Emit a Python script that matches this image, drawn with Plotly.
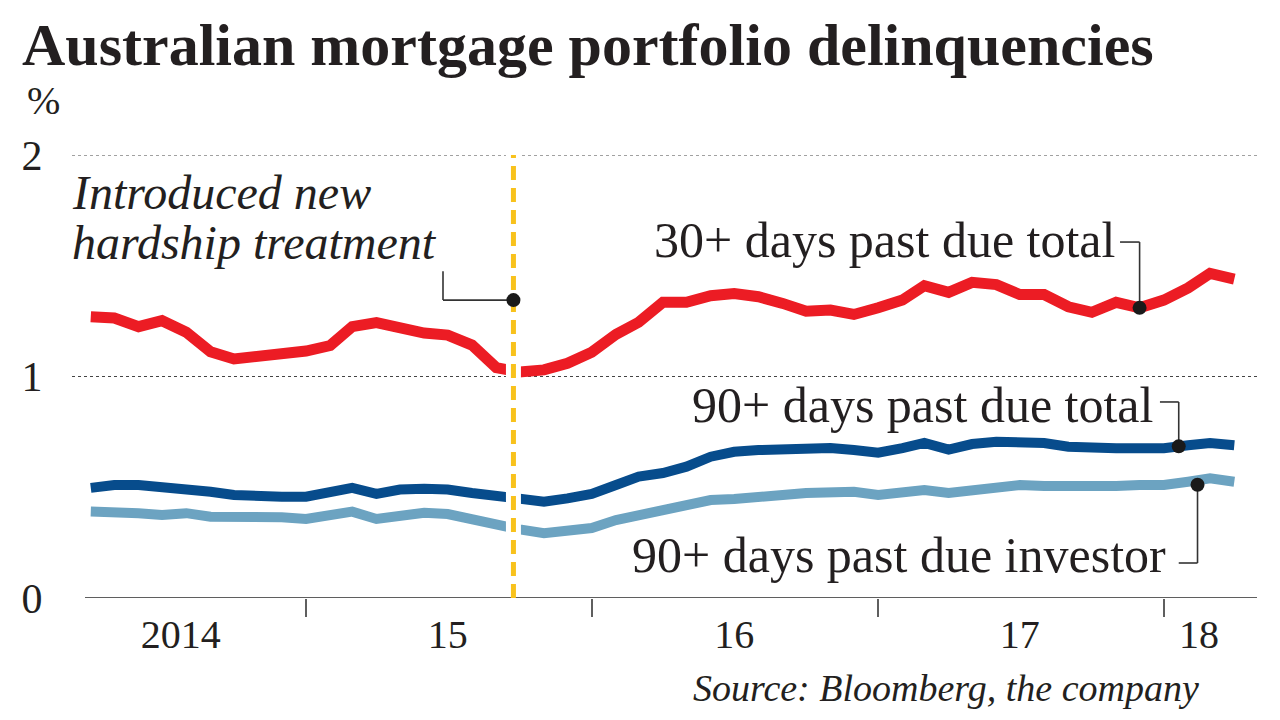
import pandas as pd
import numpy as np
import plotly.graph_objects as go

# ---------------- data ----------------
dates = pd.date_range("2014-04-01", periods=49, freq="MS")

past_due_30_total = [
    1.27, 1.264, 1.225, 1.252, 1.20, 1.112, 1.079, 1.09, 1.10,
    1.115, 1.14, 1.225, 1.243, 1.22, 1.196, 1.187, 1.142, 1.04, 1.02, 1.03, 1.06,
    1.11, 1.19, 1.245, 1.335, 1.335, 1.365, 1.375, 1.36, 1.33, 1.295, 1.30, 1.28,
    1.31, 1.345, 1.41, 1.38, 1.425, 1.415, 1.37, 1.37, 1.315, 1.29, 1.335, 1.31,
    1.345, 1.40, 1.465, 1.44,
]
past_due_90_total = [
    0.497, 0.51, 0.51, 0.502, 0.498, 0.48, 0.465, 0.457, 0.457,
    0.457, 0.475, 0.497, 0.47, 0.49, 0.493, 0.49, 0.474, 0.457, 0.45, 0.435, 0.45,
    0.47, 0.51, 0.548, 0.564, 0.593, 0.638, 0.66, 0.668, 0.672, 0.672, 0.677, 0.668,
    0.656, 0.677, 0.70, 0.67, 0.695, 0.705, 0.70, 0.70, 0.683, 0.676, 0.676, 0.676,
    0.676, 0.69, 0.70, 0.69,
]
past_due_90_investor = [
    0.39, 0.39, 0.383, 0.375, 0.383, 0.367, 0.37, 0.37, 0.365,
    0.357, 0.375, 0.39, 0.357, 0.375, 0.385, 0.379, 0.352, 0.325, 0.31, 0.293, 0.30,
    0.316, 0.352, 0.375, 0.39, 0.415, 0.442, 0.447, 0.46, 0.465, 0.474, 0.48, 0.48,
    0.465, 0.48, 0.487, 0.474, 0.487, 0.497, 0.51, 0.506, 0.506, 0.497, 0.506, 0.51,
    0.51, 0.525, 0.54, 0.525,
]

year_tick_dates = ["2015-01-01", "2016-01-01", "2017-01-01", "2018-01-01"]
year_label_dates = ["2014-07-25", "2015-07-01", "2016-07-01", "2017-07-01", "2018-02-15"]
year_labels = ["2014", "15", "16", "17", "18"]
y_tick_vals = [0, 1, 2]
y_tick_text = ["0", "1", "2"]

event_date = "2015-09-23"
x_range = ["2014-03-08", "2018-04-30"]

title = "Australian mortgage portfolio delinquencies"
source = "Source: Bloomberg, the company"

RED = "#EC1C24"
DARK = "#074C8C"
LIGHT = "#6CA3C1"
YELLOW = "#F8C21C"
TEXT = "#231F20"
GREY = "#5f5f5f"
FONT = "Liberation Serif"

# plot-area geometry (pixels) used for paper-coordinate text placement
L, R, T, B = 72, 23, 155, 122
PW, PH = 1280 - L - R, 720 - T - B


def px(x):
    return (x - L) / PW


def py(y):
    return (720 - B - y) / PH


fig = go.Figure()
for name, vals, col, w in [
    ("90+ days past due investor", past_due_90_investor, LIGHT, 10),
    ("90+ days past due total", past_due_90_total, DARK, 10),
    ("30+ days past due total", past_due_30_total, RED, 11),
]:
    fig.add_trace(go.Scatter(x=dates, y=vals, mode="lines", name=name,
                             line=dict(color=col, width=w), hoverinfo="skip"))

shapes = []
# dotted gridlines
for v in [1, 2]:
    shapes.append(dict(type="line", xref="paper", yref="y", x0=0, x1=1, y0=v, y1=v,
                       line=dict(color="#444", width=1.2, dash="dot"), layer="below"))
# axis line
shapes.append(dict(type="line", xref="paper", yref="y", x0=px(85), x1=1, y0=0, y1=0,
                   line=dict(color=GREY, width=2)))
# white gap band and yellow dashed event line
shapes.append(dict(type="line", xref="x", yref="y", x0=event_date, x1=event_date,
                   y0=0.01, y1=2.02, line=dict(color="white", width=15)))
shapes.append(dict(type="line", xref="x", yref="y", x0=event_date, x1=event_date,
                   y0=0.0, y1=2.02, line=dict(color=YELLOW, width=5, dash="14px,8px")))


def ts(d):
    return pd.Timestamp(d).value


def interp(series, d):
    return float(np.interp(ts(d), [ts(x) for x in dates], series))


LEAD = dict(color="#333", width=1.6)
dots = []
# hardship
hy = 1.345
shapes.append(dict(type="line", xref="x", yref="y", x0="2015-06-25", x1="2015-06-25", y0=1.475, y1=hy, line=LEAD))
shapes.append(dict(type="line", xref="x", yref="y", x0="2015-06-25", x1=event_date, y0=hy, y1=hy, line=LEAD))
dots.append((event_date, hy))
# 30+ total
d30 = "2017-12-01"
v30 = interp(past_due_30_total, d30)
shapes.append(dict(type="line", xref="x", yref="y", x0="2017-11-06", x1=d30, y0=1.607, y1=1.607, line=LEAD))
shapes.append(dict(type="line", xref="x", yref="y", x0=d30, x1=d30, y0=1.607, y1=v30, line=LEAD))
dots.append((d30, v30))
# 90+ total
d90 = "2018-01-20"
v90 = interp(past_due_90_total, d90)
shapes.append(dict(type="line", xref="x", yref="y", x0="2017-12-27", x1=d90, y0=0.885, y1=0.885, line=LEAD))
shapes.append(dict(type="line", xref="x", yref="y", x0=d90, x1=d90, y0=0.885, y1=v90, line=LEAD))
dots.append((d90, v90))
# 90+ investor
dinv = "2018-02-13"
vinv = interp(past_due_90_investor, dinv) - 0.02
shapes.append(dict(type="line", xref="x", yref="y", x0=dinv, x1=dinv, y0=vinv, y1=0.158, line=LEAD))
shapes.append(dict(type="line", xref="x", yref="y", x0="2018-01-20", x1=dinv, y0=0.158, y1=0.158, line=LEAD))
dots.append((dinv, vinv))

for d, v in dots:
    shapes.append(dict(type="circle", xref="x", yref="y", xsizemode="pixel", ysizemode="pixel",
                       xanchor=d, yanchor=v, x0=-7, x1=7, y0=-7, y1=7,
                       fillcolor="#1a1a1a", line=dict(color="#1a1a1a", width=0)))

annotations = [
    dict(text=title, xref="paper", yref="paper", x=px(20), y=py(45), xanchor="left", yanchor="middle",
         showarrow=False, font=dict(family=FONT, size=60, color=TEXT, weight="bold")),
    dict(text="%", xref="paper", yref="paper", x=px(25), y=py(100), xanchor="left", yanchor="middle",
         showarrow=False, font=dict(family=FONT, size=40, color=TEXT)),
    dict(text="Introduced new", xref="paper", yref="paper", x=px(70), y=py(192), xanchor="left",
         yanchor="middle", showarrow=False, font=dict(family=FONT, size=48, color=TEXT, style="italic")),
    dict(text="hardship treatment", xref="paper", yref="paper", x=px(70), y=py(242), xanchor="left",
         yanchor="middle", showarrow=False, font=dict(family=FONT, size=48, color=TEXT, style="italic")),
    dict(text="30+ days past due total", xref="paper", yref="paper", x=px(1117), y=py(240),
         xanchor="right", yanchor="middle", showarrow=False, font=dict(family=FONT, size=50, color=TEXT)),
    dict(text="90+ days past due total", xref="paper", yref="paper", x=px(1155), y=py(405),
         xanchor="right", yanchor="middle", showarrow=False, font=dict(family=FONT, size=50, color=TEXT)),
    dict(text="90+ days past due investor", xref="paper", yref="paper", x=px(1168), y=py(555),
         xanchor="right", yanchor="middle", showarrow=False, font=dict(family=FONT, size=50, color=TEXT)),
    dict(text=source, xref="paper", yref="paper", x=px(1201), y=py(688),
         xanchor="right", yanchor="middle", showarrow=False, font=dict(family=FONT, size=38, color=TEXT, style="italic")),
]

fig.update_layout(
    width=1280, height=720,
    margin=dict(l=L, r=R, t=T, b=B, pad=0),
    paper_bgcolor="white", plot_bgcolor="white",
    showlegend=False,
    shapes=shapes,
    annotations=annotations,
    xaxis=dict(type="date", range=x_range, showgrid=False, zeroline=False, showline=False,
               tickmode="array", tickvals=year_label_dates, ticktext=year_labels,
               ticks="outside", ticklen=1, tickcolor="rgba(0,0,0,0)",
               tickfont=dict(family=FONT, size=40, color=TEXT),
               minor=dict(tickmode="array", tickvals=year_tick_dates, ticks="outside",
                          ticklen=18, tickwidth=2, tickcolor=GREY, showgrid=False)),
    yaxis=dict(range=[0, 2], showgrid=False, zeroline=False, showline=False,
               tickmode="array", tickvals=y_tick_vals, ticktext=y_tick_text,
               ticks="outside", ticklen=20, tickcolor="rgba(0,0,0,0)",
               tickfont=dict(family=FONT, size=42, color=TEXT)),
)

fig.write_html("out.html", config={"displayModeBar": False},
               post_script="document.body.style.margin='0';document.body.style.overflow='hidden';")
